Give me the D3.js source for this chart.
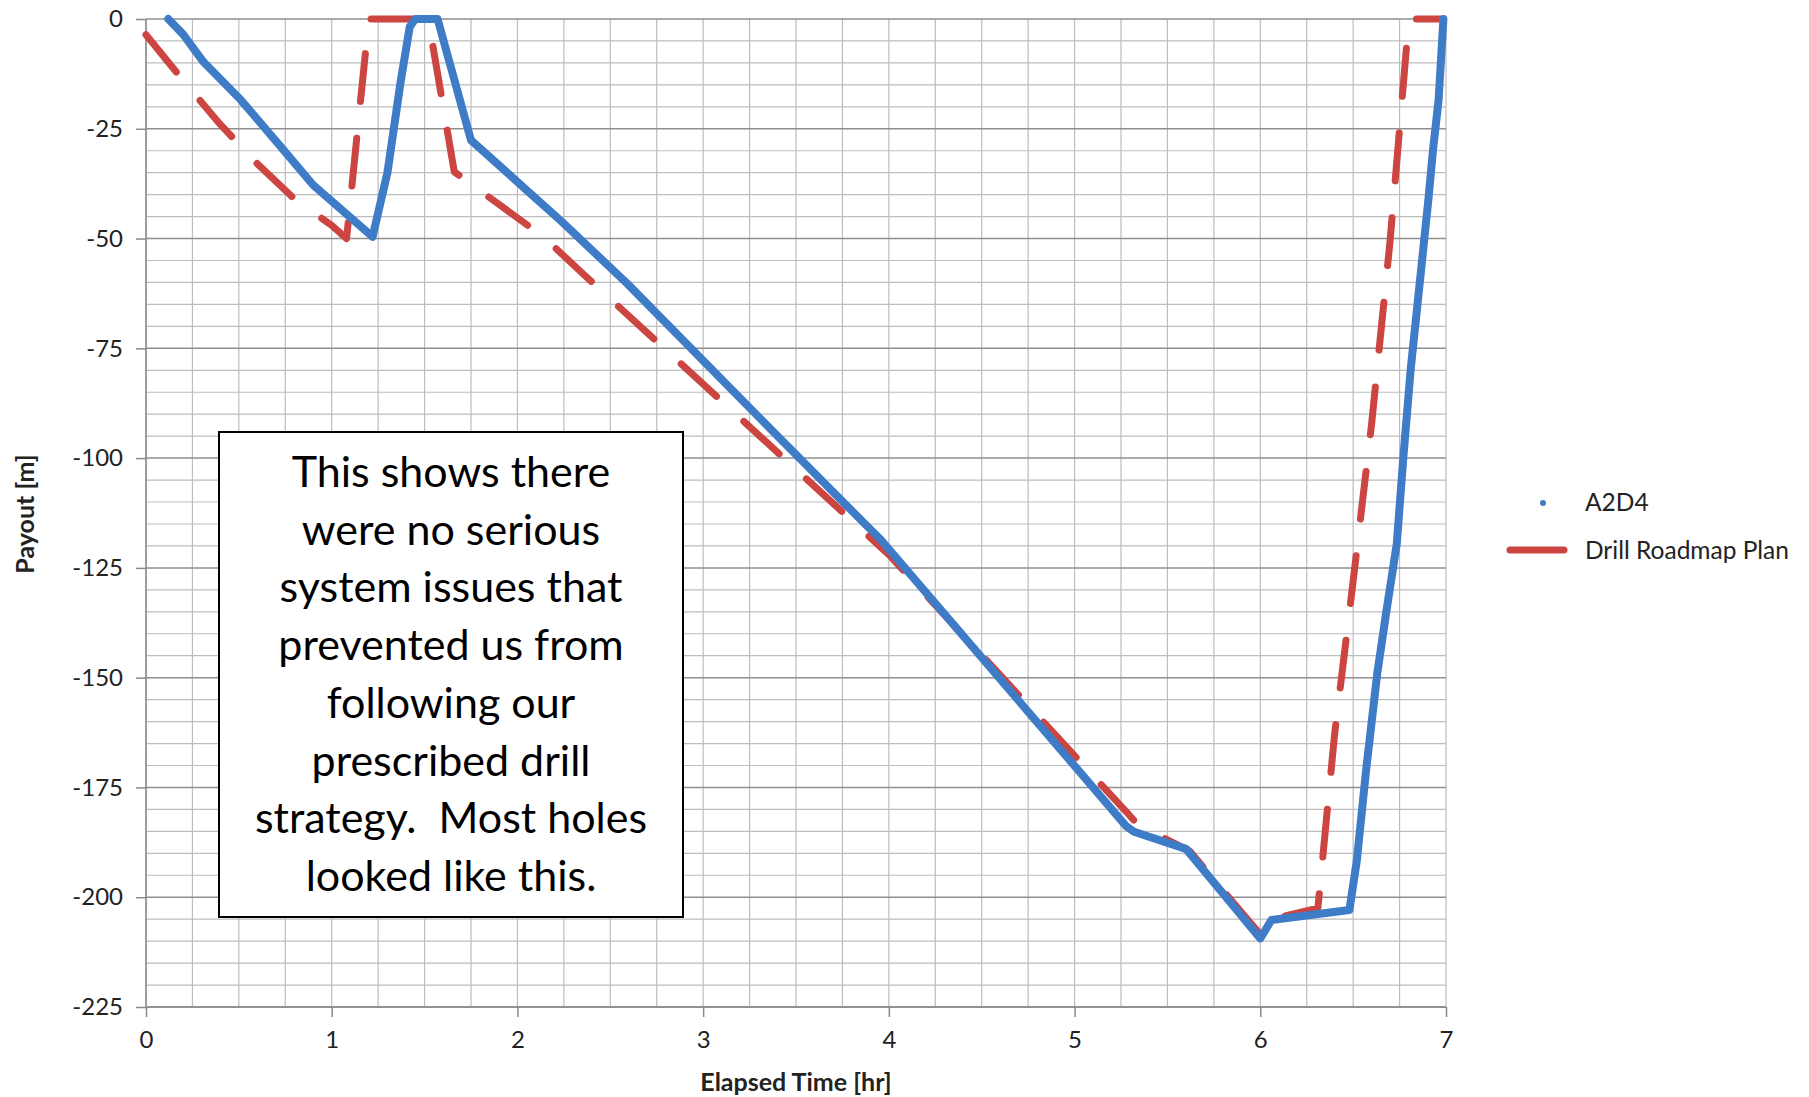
<!DOCTYPE html>
<html>
<head>
<meta charset="utf-8">
<script src="https://cdn.jsdelivr.net/npm/d3@7"></script>
<style>
  body { margin: 0; background: #fff; }
  svg { display: block; font-family: Lato, 'Noto Sans', sans-serif; }
  .grid-minor line { stroke: #bdbdbd; stroke-width: 1.2; }
  .grid-major line { stroke: #8f8f8f; stroke-width: 1.5; }
  .axis path, .axis line { stroke: #8a8a8a; stroke-width: 1.5; }
  .axis text { font-size: 24px; fill: #222; font-family: Lato, 'Noto Sans', sans-serif; }
  .axis-title { font-size: 25px; font-weight: bold; fill: #222; }
  .note text { font-size: 43px; fill: #000; }
  .legend text { font-size: 24.5px; fill: #222; }
</style>
</head>
<body>
<svg id="chart" width="1809" height="1097"></svg>
<script>
// A2D4 measured payout (hr, m)
const a2d4Time = [0.12, 0.2, 0.31, 0.51, 0.74, 0.9, 1.22, 1.3, 1.37, 1.42, 1.45, 1.57, 1.75, 2.05, 2.23, 2.59,
  3.27, 3.85, 3.95, 5.28, 5.32, 5.6, 6.0, 6.06, 6.48, 6.52, 6.57, 6.63, 6.68, 6.735, 6.77, 6.81, 6.86, 6.905,
  6.93, 6.96, 6.986];
const a2d4Payout = [0, -3.5, -9.8, -18.4, -29.8, -37.8, -49.6, -35, -14.6, -1.8, 0, 0, -27.6, -39, -45.8, -60.2,
  -89.4, -114.1, -118.3, -183.9, -185.1, -189, -209.4, -205.2, -202.9, -191.6, -171, -149, -134.6, -119.5, -100,
  -79.7, -59.5, -41.2, -29.8, -18.5, 0];

// Drill roadmap plan (hr, m)
const planTime = [0, 0.2, 0.4, 0.6, 0.8, 1.0, 1.08, 1.2, 1.52, 1.66, 2.14, 2.37, 3.71, 4.0, 5.28, 5.34, 5.62,
  6.0, 6.06, 6.31, 6.4, 6.5, 6.6, 6.7, 6.8, 6.97];
const planPayout = [-3.6, -14, -24, -33, -41, -47, -50, 0, 0, -34.8, -49.6, -58.7, -110.7, -122, -180.6, -183.5,
  -189.5, -208.5, -205, -202.5, -163, -128, -92, -50, 0, 0];

const xTicks = [0, 1, 2, 3, 4, 5, 6, 7];
const yTicks = [0, -25, -50, -75, -100, -125, -150, -175, -200, -225];
const seriesNames = ['A2D4', 'Drill Roadmap Plan'];
const noteLines = ['This shows there', 'were no serious', 'system issues that', 'prevented us from',
  'following our', 'prescribed drill', 'strategy.  Most holes', 'looked like this.'];

const margin = { top: 19, right: 363, bottom: 90, left: 146 };
const w = 1809;
const h = 1097;
const width = w - margin.left - margin.right;
const height = h - margin.top - margin.bottom;

const svg = d3.select('#chart');
const g = svg.append('g').attr('transform', `translate(${margin.left},${margin.top})`);

const x = d3.scaleLinear().domain([0, 7]).range([0, width]);
const y = d3.scaleLinear().domain([-225, 0]).range([height, 0]);

// gridlines
const minorX = d3.range(0, 7.001, 0.25);
const minorY = d3.range(-225, 0.001, 5);

g.append('g').attr('class', 'grid-minor')
  .selectAll('line').data(minorY.filter(d => d % 25 !== 0)).join('line')
  .attr('x1', 0).attr('x2', width)
  .attr('y1', d => y(d)).attr('y2', d => y(d));

g.append('g').attr('class', 'grid-minor')
  .selectAll('line').data(minorX).join('line')
  .attr('y1', 0).attr('y2', height)
  .attr('x1', d => x(d)).attr('x2', d => x(d));

g.append('g').attr('class', 'grid-major')
  .selectAll('line').data(yTicks).join('line')
  .attr('x1', 0).attr('x2', width)
  .attr('y1', d => y(d)).attr('y2', d => y(d));

// axes
g.append('g').attr('class', 'axis axis-y')
  .call(d3.axisLeft(y).tickValues(yTicks).tickSize(10).tickPadding(13).tickFormat(d => String(d)))
  .call(s => s.select('.domain').attr('d', `M0,0V${height}`))
  .attr('font-family', null)
  .attr('font-size', null);

g.append('g').attr('class', 'axis axis-x')
  .attr('transform', `translate(0,${height})`)
  .call(d3.axisBottom(x).tickValues(xTicks).tickSize(10).tickPadding(14).tickFormat(d => String(d)))
  .call(s => s.select('.domain').attr('d', `M0,0H${width}`))
  .attr('font-family', null)
  .attr('font-size', null);

// axis titles
svg.append('text')
  .attr('class', 'axis-title')
  .attr('transform', `translate(34,514) rotate(-90)`)
  .attr('text-anchor', 'middle')
  .text('Payout [m]');

svg.append('text')
  .attr('class', 'axis-title')
  .attr('x', 796).attr('y', 1091)
  .attr('text-anchor', 'middle')
  .text('Elapsed Time [hr]');

// series
const planData = planTime.map((t, i) => ({ t, v: planPayout[i] }));
const a2d4Data = a2d4Time.map((t, i) => ({ t, v: a2d4Payout[i] }));

const line = d3.line().x(d => x(d.t)).y(d => y(d.v));

g.append('path')
  .datum(planData)
  .attr('d', line)
  .attr('fill', 'none')
  .attr('stroke', '#cc4541')
  .attr('stroke-width', 7)
  .attr('stroke-linecap', 'round')
  .attr('stroke-linejoin', 'round')
  .attr('stroke-dasharray', '48 37');

g.append('path')
  .datum(a2d4Data)
  .attr('d', line)
  .attr('fill', 'none')
  .attr('stroke', '#3f7cc8')
  .attr('stroke-width', 8)
  .attr('stroke-linecap', 'round')
  .attr('stroke-linejoin', 'round');

// note box
const note = svg.append('g').attr('class', 'note');
note.append('rect')
  .attr('x', 219).attr('y', 432)
  .attr('width', 464).attr('height', 485)
  .attr('fill', '#fff')
  .attr('stroke', '#000')
  .attr('stroke-width', 2);

note.selectAll('text').data(noteLines).join('text')
  .attr('x', 451)
  .attr('y', (d, i) => 487 + i * 57.7)
  .attr('text-anchor', 'middle')
  .style('white-space', 'pre')
  .text(d => d);

// legend
const legend = svg.append('g').attr('class', 'legend');
legend.append('circle')
  .attr('cx', 1543).attr('cy', 503).attr('r', 3)
  .attr('fill', '#3f7cc8');
legend.append('line')
  .attr('x1', 1510).attr('x2', 1564)
  .attr('y1', 550).attr('y2', 550)
  .attr('stroke', '#cc4541')
  .attr('stroke-width', 7)
  .attr('stroke-linecap', 'round');
legend.selectAll('text').data(seriesNames).join('text')
  .attr('x', 1585)
  .attr('y', (d, i) => 511 + i * 48)
  .text(d => d);
</script>
</body>
</html>
